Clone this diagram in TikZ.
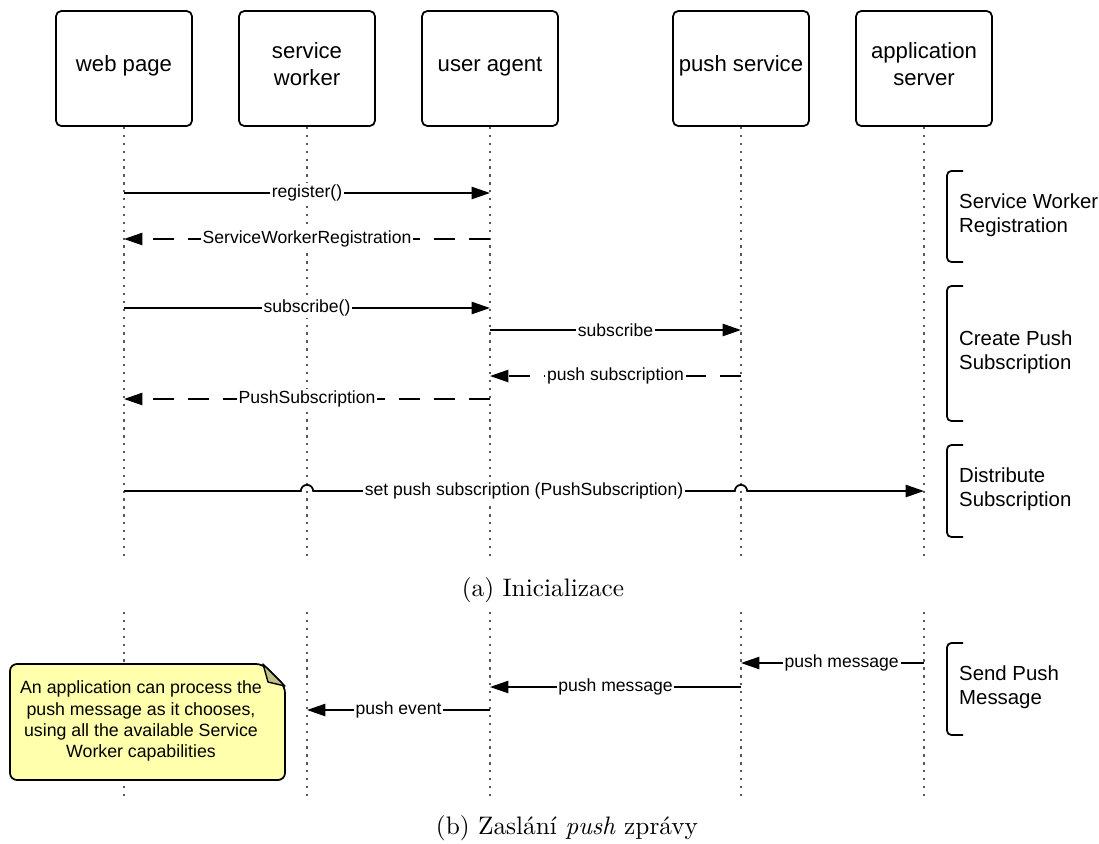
\documentclass[tikz,border=0pt]{standalone}
\usepackage{fontspec}
\newfontfamily\arial{Liberation Sans}
\newfontfamily\capfont[ItalicFont=lmroman10-italic.otf]{lmroman10-regular.otf}
\usepackage{xcolor}
\usepackage{tikz}
\usetikzlibrary{arrows.meta,positioning}

\definecolor{poznamka}{RGB}{255,255,172}
\definecolor{ohyb}{RGB}{192,192,136}

\begin{document}
\begin{tikzpicture}[x=0.02cm,y=-0.02cm,
  hlava/.style={draw,line width=1pt,rounded corners=3pt,inner sep=1pt,
                minimum width=2.72cm,minimum height=2.3cm,align=center,
                text depth=5.3pt,font=\arial\fontsize{12.6}{15.3}\selectfont},
  zivot/.style={gray!70!black,line width=1.3pt,dash pattern=on 1.3pt off 3.2pt},
  zpr/.style={line width=1pt,-{Triangle[length=10.5pt,width=7pt]}},
  odp/.style={zpr,dash pattern=on 12pt off 8pt},
  popis/.style={fill=white,inner sep=1pt,font=\arial\fontsize{10}{12}\selectfont},
  zavorka/.style={line width=1pt,rounded corners=2.5pt},
  faze/.style={anchor=west,align=left,font=\arial\fontsize{11.6}{13.6}\selectfont},
  titulek/.style={font=\capfont\fontsize{14.4}{18}\selectfont}]
  \useasboundingbox (0,0) rectangle (1099,843);

  % hlavicky ucastniku
  \node[hlava] (wp) at (124,68.5) {web page};
  \node[hlava] (sw) at (307,68.5) {service\\worker};
  \node[hlava] (ua) at (490,68.5) {user agent};
  \node[hlava] (ps) at (741,68.5) {push service};
  \node[hlava] (as) at (924,68.5) {application\\server};

  % zivotni cary, horni a dolni cast
  \foreach \u in {wp,sw,ua,ps,as}{
    \draw[zivot] (\u.south) -- (\u |- 0,557);
    \draw[zivot] (\u |- 0,612) -- (\u |- 0,800);
  }

  % (a) inicializace
  \draw[zpr] (wp |- 0,193) -- node[popis]{register()} (ua |- 0,193);
  \draw[odp] (ua |- 0,239) -- node[popis]{ServiceWorkerRegistration} (wp |- 0,239);
  \draw[zpr] (wp |- 0,308) -- node[popis]{subscribe()} (ua |- 0,308);
  \draw[zpr] (ua |- 0,330) -- node[popis]{subscribe} (ps |- 0,330);
  \draw[odp] (ps |- 0,376) -- node[popis]{push subscription} (ua |- 0,376);
  \draw[odp] (ua |- 0,399) -- node[popis]{PushSubscription} (wp |- 0,399);

  \coordinate (h1) at (sw |- 0,491);
  \coordinate (h2) at (ps |- 0,491);
  \draw[zpr] (wp |- 0,491) -- ([xshift=-3.5pt]h1) arc[start angle=180,end angle=0,radius=3.5pt]
    -- node[popis]{set push subscription (PushSubscription)} ([xshift=-3.5pt]h2)
    arc[start angle=180,end angle=0,radius=3.5pt] -- (as |- 0,491);

  \draw[zavorka] (963,171) -- (947,171) -- (947,262) -- (963,262);
  \node[faze] (f1) at (953,215) {Service Worker\\Registration};
  \draw[zavorka] (963,286) -- (947,286) -- (947,421) -- (963,421);
  \node[faze] (f2) at (953,352) {Create Push\\Subscription};
  \draw[zavorka] (963,445) -- (947,445) -- (947,537) -- (963,537);
  \node[faze] (f3) at (953,489) {Distribute\\Subscription};

  \node[titulek] (capa) at (543,590) {(a) Inicializace};

  % (b) zaslani push zpravy
  \draw[zpr] (as |- 0,663) -- node[popis,pos=0.45]{push message} (ps |- 0,663);
  \draw[zpr] (ps |- 0,687) -- node[popis]{push message} (ua |- 0,687);
  \draw[zpr] (ua |- 0,710) -- node[popis]{push event} (sw |- 0,710);

  \draw[zavorka] (963,643) -- (947,643) -- (947,735) -- (963,735);
  \node[faze] (f4) at (953,687) {Send Push\\Message};

  % poznamka s ohnutym rohem
  \draw[line width=1pt,fill=poznamka,rounded corners=4pt]
    (10,664) -- (263,664) -- (285,686) -- (285,780) -- (10,780) -- cycle;
  \draw[line width=0.8pt,fill=ohyb,line join=round] (263,664) -- (285,686) -- (268,682) -- cycle;
  \node[align=center,font=\arial\fontsize{10.1}{12}\selectfont] (pozn) at (141,721)
    {An application can process the\\push message as it chooses,\\using all the available Service\\Worker capabilities};

  \node[titulek] (capb) at (567,828) {(b) Zaslání \emph{push} zprávy};
\end{tikzpicture}
\end{document}
